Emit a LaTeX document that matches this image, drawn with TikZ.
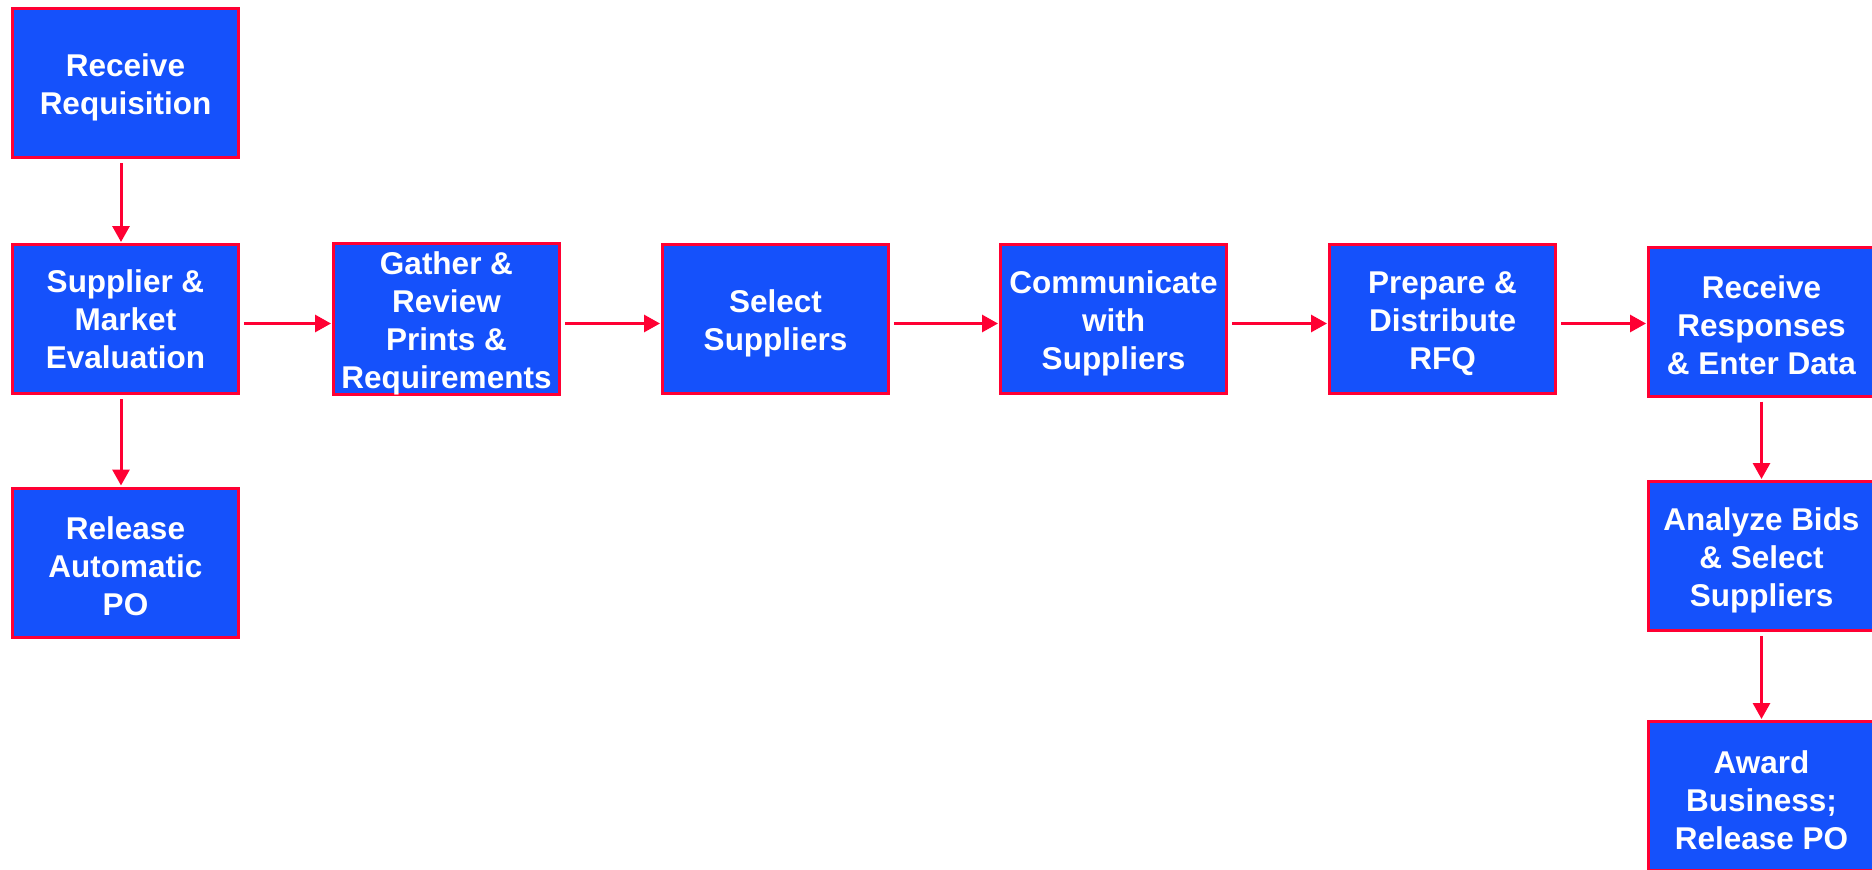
\documentclass[tikz,border=0pt]{standalone}
\usepackage{fontspec}
\setmainfont{Liberation Sans}
\usetikzlibrary{arrows.meta}

\definecolor{boxblue}{RGB}{21,81,251}
\definecolor{linkred}{RGB}{255,0,51}

% taller first line so each block of text sits a little lower in its box
\newcommand\firstline{\rule{0pt}{31pt}}

\tikzset{
  stepbox/.style={
    draw=linkred, line width=3pt, fill=boxblue,
    minimum width=226pt, minimum height=149pt,
    inner sep=0pt, text=white, align=center,
    font=\fontsize{31.5}{38}\selectfont\bfseries
  },
  flow/.style={
    draw=linkred, line width=3pt,
    -{Triangle[length=16pt,width=17pt]},
    shorten <=4pt, shorten >=1pt
  }
}

\begin{document}
\begin{tikzpicture}[x=1pt,y=-1pt]
  \path[use as bounding box] (0,0) rectangle (1872,870);

  % left column
  \node[stepbox] (req)     at (125.5, 83)  {\firstline Receive\\Requisition};
  \node[stepbox] (market)  at (125.5, 319) {Supplier \&\\Market\\Evaluation};
  \node[stepbox] (autopo)  at (125.5, 562.5) {\firstline Release\\Automatic\\PO};

  % main row
  \node[stepbox] (gather)  at (446.5, 319)  {\firstline Gather \&\\Review\\Prints \&\\Requirements};
  \node[stepbox] (select)  at (775.5, 319)  {\firstline Select\\Suppliers};
  \node[stepbox] (comm)    at (1113.5, 319) {\firstline Communicate\\with\\Suppliers};
  \node[stepbox] (rfq)     at (1442.5, 319) {\firstline Prepare \&\\Distribute\\RFQ};

  % right column
  \node[stepbox] (resp)    at (1761.5, 321.5) {\firstline Receive\\Responses\\\& Enter Data};
  \node[stepbox] (analyze) at (1761.5, 556)   {\firstline Analyze Bids\\\& Select\\Suppliers};
  \node[stepbox] (award)   at (1761.5, 796)   {\firstline Award\\Business;\\Release PO};

  % connectors
  \draw[flow] ([xshift=-4.5pt]req.south) -- ([xshift=-4.5pt]market.north);
  \draw[flow] ([xshift=-4.5pt]market.south) -- ([xshift=-4.5pt]autopo.north);
  \draw[flow] ([yshift=-4.5pt]market.east) -- ([yshift=-4.5pt]gather.west);
  \draw[flow] ([yshift=-4.5pt]gather.east) -- ([yshift=-4.5pt]select.west);
  \draw[flow] ([yshift=-4.5pt]select.east) -- ([yshift=-4.5pt]comm.west);
  \draw[flow] ([yshift=-4.5pt]comm.east) -- ([yshift=-4.5pt]rfq.west);
  \draw[flow] ([yshift=-4.5pt]rfq.east) -- ([yshift=-4.5pt]rfq.east -| resp.west);
  \draw[flow] (resp.south) -- (analyze.north);
  \draw[flow] (analyze.south) -- (award.north);
\end{tikzpicture}
\end{document}
